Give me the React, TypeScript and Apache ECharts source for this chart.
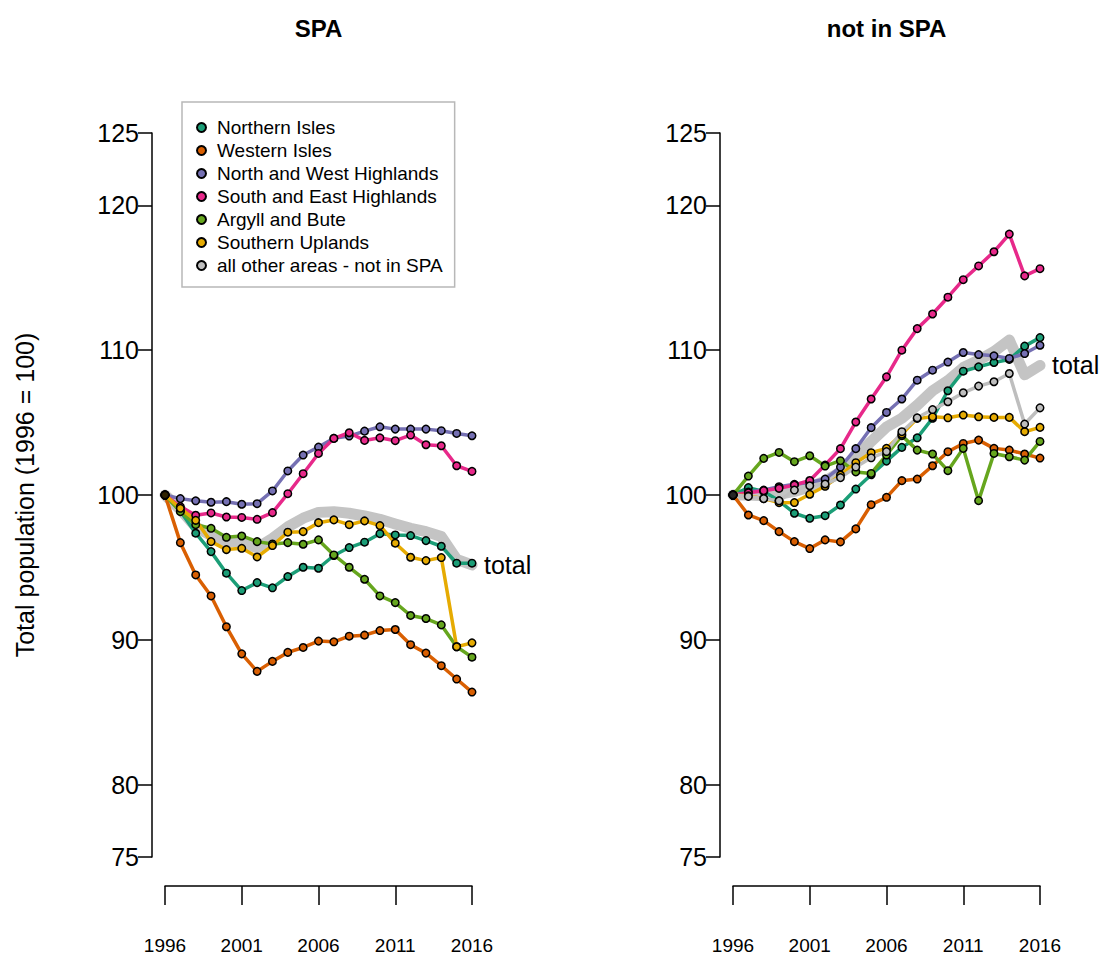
import React, { useEffect, useRef } from "react";
import * as echarts from "echarts";

// ---------- data ----------
const years = [1996, 1997, 1998, 1999, 2000, 2001, 2002, 2003, 2004, 2005, 2006, 2007, 2008, 2009, 2010, 2011, 2012, 2013, 2014, 2015, 2016];
const xTicks = [1996, 2001, 2006, 2011, 2016];
const yTicks = [75, 80, 90, 100, 110, 120, 125];
const baseYear = 1996;
const baseValue = 100;
const refLineEnd = 2016.5;

const regionNames = [
  "Northern Isles",
  "Western Isles",
  "North and West Highlands",
  "South and East Highlands",
  "Argyll and Bute",
  "Southern Uplands",
  "all other areas - not in SPA",
];

// SPA panel
const spaNorthernIsles = [100, 98.9, 97.36, 96.09, 94.6, 93.4, 93.95, 93.59, 94.37, 95.01, 94.94, 95.82, 96.37, 96.74, 97.33, 97.24, 97.2, 96.85, 96.46, 95.29, 95.29];
const spaWesternIsles = [100, 96.71, 94.48, 93.03, 90.9, 89.03, 87.82, 88.51, 89.13, 89.47, 89.91, 89.86, 90.25, 90.32, 90.64, 90.71, 89.66, 89.08, 88.21, 87.29, 86.39];
const spaNorthWest = [100, 99.75, 99.6, 99.5, 99.54, 99.36, 99.4, 100.28, 101.66, 102.76, 103.31, 103.91, 104.07, 104.41, 104.71, 104.55, 104.55, 104.55, 104.44, 104.25, 104.09];
const spaSouthEast = [100, 99.2, 98.6, 98.76, 98.48, 98.45, 98.32, 98.78, 100.09, 101.47, 102.87, 103.91, 104.3, 103.77, 103.95, 103.75, 104.14, 103.47, 103.4, 102.02, 101.63];
const spaArgyll = [100, 98.85, 97.95, 97.7, 97.08, 97.17, 96.78, 96.62, 96.71, 96.6, 96.9, 95.86, 95.01, 94.18, 93.03, 92.57, 91.68, 91.47, 91.03, 89.52, 88.8];
const spaSouthernUplands = [100, 99.08, 98.25, 96.78, 96.23, 96.32, 95.72, 96.51, 97.43, 97.47, 98.09, 98.28, 97.95, 98.21, 97.89, 96.67, 95.7, 95.47, 95.68, 89.52, 89.79];
const spaTotal = [100, 99.0, 97.8, 97.2, 96.8, 96.75, 96.35, 97.0, 97.8, 98.4, 98.8, 98.85, 98.74, 98.55, 98.32, 98.0, 97.7, 97.47, 97.13, 95.56, 95.17];

// not in SPA panel
const nspNorthernIsles = [100, 100.51, 100.25, 99.6, 98.74, 98.39, 98.57, 99.31, 100.41, 101.4, 102.34, 103.29, 103.95, 105.3, 107.2, 108.55, 108.85, 109.15, 109.36, 110.28, 110.87];
const nspWesternIsles = [100, 98.62, 98.23, 97.47, 96.78, 96.3, 96.9, 96.76, 97.66, 99.33, 99.84, 100.99, 101.1, 102.02, 102.99, 103.56, 103.79, 103.22, 103.1, 102.83, 102.55];
const nspNorthWest = [100, 100.2, 100.34, 100.57, 100.74, 100.87, 101.1, 101.93, 103.2, 104.65, 105.7, 106.63, 107.93, 108.62, 109.18, 109.84, 109.7, 109.61, 109.43, 109.77, 110.34];
const nspSouthEast = [100, 100.15, 100.3, 100.46, 100.69, 101.0, 102.07, 103.2, 105.04, 106.63, 108.16, 110.0, 111.49, 112.5, 113.66, 114.87, 115.82, 116.8, 118.02, 115.13, 115.63];
const nspArgyll = [100, 101.31, 102.53, 102.94, 102.3, 102.71, 102.0, 102.37, 101.59, 101.49, 102.76, 104.1, 103.1, 102.83, 101.68, 103.22, 99.61, 102.87, 102.64, 102.41, 103.7];
const nspSouthernUplands = [100, 99.95, 99.75, 99.47, 99.48, 100.05, 100.6, 101.38, 102.23, 102.92, 103.22, 104.2, 105.29, 105.4, 105.33, 105.52, 105.4, 105.36, 105.36, 104.37, 104.67];
const nspOtherAreas = [100, 99.9, 99.75, 99.6, 100.34, 100.64, 100.76, 101.2, 101.93, 102.57, 103.0, 104.37, 105.33, 105.9, 106.44, 107.06, 107.52, 107.82, 108.39, 104.9, 106.02];
const nspTotal = [100, 100, 99.95, 100.05, 100.25, 100.55, 100.95, 101.6, 102.6, 103.7, 104.7, 105.3, 106.2, 107.2, 107.9, 108.8, 109.3, 109.9, 110.7, 108.3, 108.95];

// ---------- styles ----------
const regionColors = ["#1b9e77", "#d95f02", "#7570b3", "#e7298a", "#66a61e", "#e6ab02", "#bebebe"];
const totalColor = "#c4c4c4";
const FONT = "'Liberation Sans', Arial, Helvetica, sans-serif";

const toPairs = (vals: number[]) => years.map((y, i) => [y, vals[i]]);

function regionSeries(idx: number, vals: number[], panel: number) {
  const color = regionColors[idx];
  return {
    type: "line",
    name: regionNames[idx],
    xAxisIndex: panel,
    yAxisIndex: panel,
    data: toPairs(vals),
    symbol: "circle",
    symbolSize: 7.5,
    showSymbol: true,
    clip: false,
    z: 3,
    lineStyle: { color, width: 3.5 },
    itemStyle: { color, borderColor: "#000", borderWidth: 1.5 },
    emphasis: { disabled: true },
  };
}

function totalSeries(name: string, vals: number[], panel: number) {
  return {
    type: "line",
    name,
    xAxisIndex: panel,
    yAxisIndex: panel,
    data: toPairs(vals),
    symbol: "none",
    clip: false,
    z: 2,
    lineStyle: { color: totalColor, width: 11, cap: "round", join: "round" },
    itemStyle: { color: totalColor },
    emphasis: { disabled: true },
    endLabel: {
      show: true,
      formatter: "total",
      fontSize: 25,
      fontFamily: FONT,
      color: "#000",
      distance: 12,
    },
    markLine: {
      silent: true,
      symbol: "none",
      label: { show: false },
      lineStyle: { color: "#000", width: 1.5, type: [3, 4] },
      data: [[{ coord: [baseYear, baseValue] }, { coord: [refLineEnd, baseValue] }]],
    },
  };
}

function baseDot(panel: number) {
  return {
    type: "scatter",
    name: "base",
    xAxisIndex: panel,
    yAxisIndex: panel,
    data: [[baseYear, baseValue]],
    symbolSize: 9,
    z: 10,
    clip: false,
    itemStyle: { color: "#000" },
    emphasis: { disabled: true },
  };
}

function makeX(panel: number) {
  return {
    gridIndex: panel,
    type: "value",
    min: years[0],
    max: years[years.length - 1],
    offset: 29,
    axisLine: { show: true, lineStyle: { color: "#000", width: 1.5 } },
    axisTick: { show: true, length: 19, customValues: xTicks, lineStyle: { color: "#000", width: 1.5 } },
    axisLabel: {
      customValues: xTicks,
      margin: 50,
      fontSize: 19,
      fontFamily: FONT,
      color: "#000",
      formatter: (v: number) => String(v),
    },
    splitLine: { show: false },
  };
}

function makeY(panel: number) {
  const ax: any = {
    gridIndex: panel,
    type: "value",
    min: yTicks[0],
    max: yTicks[yTicks.length - 1],
    offset: 13,
    axisLine: { show: true, lineStyle: { color: "#000", width: 1.5 } },
    axisTick: { show: true, length: 14, customValues: yTicks, lineStyle: { color: "#000", width: 1.5 } },
    axisLabel: {
      customValues: yTicks,
      margin: 13,
      fontSize: 25,
      fontFamily: FONT,
      color: "#000",
    },
    splitLine: { show: false },
  };
  if (panel === 0) {
    ax.name = "Total population (1996 = 100)";
    ax.nameLocation = "middle";
    ax.nameRotate = 90;
    ax.nameGap = 115;
    ax.nameTextStyle = { fontSize: 25, fontFamily: FONT, color: "#000" };
  }
  return ax;
}

export default function App() {
  const ref = useRef<HTMLDivElement>(null);

  useEffect(() => {
    if (!ref.current) return;
    const chart = echarts.init(ref.current, undefined, { renderer: "svg" });

    const spaSets = [spaNorthernIsles, spaWesternIsles, spaNorthWest, spaSouthEast, spaArgyll, spaSouthernUplands];
    const nspSets = [nspNorthernIsles, nspWesternIsles, nspNorthWest, nspSouthEast, nspArgyll, nspSouthernUplands, nspOtherAreas];

    const series: any[] = [];
    series.push(totalSeries("SPA total", spaTotal, 0));
    spaSets.forEach((v, i) => series.push(regionSeries(i, v, 0)));
    series.push(baseDot(0));
    series.push(totalSeries("not in SPA total", nspTotal, 1));
    nspSets.forEach((v, i) => series.push(regionSeries(i, v, 1)));
    series.push(baseDot(1));

    chart.setOption({
      animation: false,
      backgroundColor: "#fff",
      textStyle: { fontFamily: FONT },
      grid: [
        { left: 165, top: 133, width: 307, height: 724 },
        { left: 733, top: 133, width: 307, height: 724 },
      ],
      xAxis: [makeX(0), makeX(1)],
      yAxis: [makeY(0), makeY(1)],
      legend: {
        data: regionNames,
        orient: "vertical",
        left: 182,
        top: 102,
        padding: [16, 12, 12, 14],
        itemGap: 4,
        itemWidth: 9,
        itemHeight: 9,
        icon: "circle",
        borderColor: "#b8b8b8",
        borderWidth: 1.5,
        selectedMode: false,
        textStyle: { fontSize: 19, fontFamily: FONT, color: "#000", lineHeight: 19, padding: [0, 0, 0, 6] },
      },
      graphic: [
        {
          type: "text",
          x: 318.5,
          y: 28,
          style: { text: "SPA", fontSize: 24, fontWeight: "bold", fontFamily: FONT, fill: "#000", align: "center", verticalAlign: "middle", textAlign: "center", textVerticalAlign: "middle" },
        },
        {
          type: "text",
          x: 886.5,
          y: 28,
          style: { text: "not in SPA", fontSize: 24, fontWeight: "bold", fontFamily: FONT, fill: "#000", align: "center", verticalAlign: "middle", textAlign: "center", textVerticalAlign: "middle" },
        },
      ],
      series,
    });

    return () => chart.dispose();
  }, []);

  return (
    <div
      ref={ref}
      style={{ position: "absolute", left: 0, top: 0, width: 1101, height: 957, background: "#fff" }}
    />
  );
}
